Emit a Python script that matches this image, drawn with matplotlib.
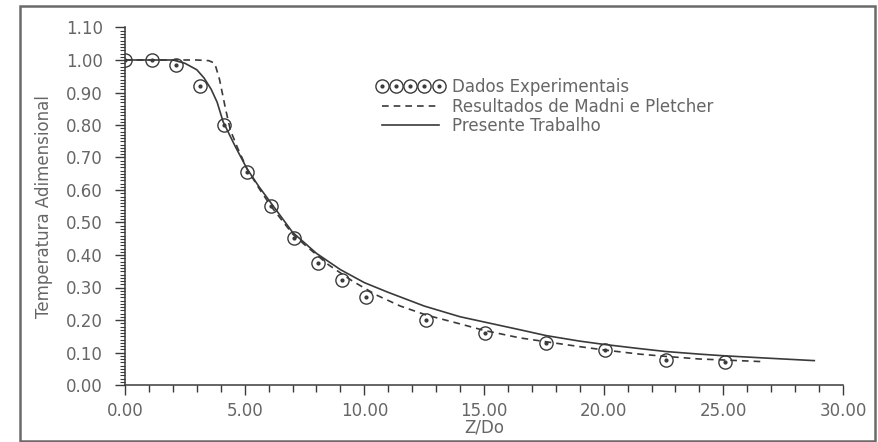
import matplotlib
matplotlib.use("Agg")
import matplotlib.pyplot as plt
from matplotlib.patches import Rectangle
from matplotlib.legend_handler import HandlerTuple
from matplotlib.ticker import MultipleLocator, FormatStrFormatter

# ---- data ----
exp_x = [0.0, 1.13, 2.13, 3.13, 4.14, 5.10, 6.10, 7.05, 8.06, 9.07, 10.07,
         12.58, 15.04, 17.6, 20.06, 22.6, 25.07]
exp_y = [1.00, 1.00, 0.985, 0.92, 0.80, 0.655, 0.55, 0.452, 0.375, 0.323, 0.271,
         0.200, 0.160, 0.129, 0.108, 0.077, 0.071]

madni_x = [0.0, 3.0, 3.5, 3.75, 3.95, 4.2, 4.4, 4.7, 5.1, 5.6, 6.1, 7.0, 7.5,
           8.5, 9.5, 10.5, 11.5, 12.6, 13.9, 15.0, 16.5, 17.6, 19.0, 20.0,
           21.5, 22.6, 24.0, 25.0, 26.6]
madni_y = [1.0, 1.0, 0.998, 0.99, 0.94, 0.85, 0.785, 0.73, 0.665, 0.605, 0.55,
           0.465, 0.432, 0.37, 0.32, 0.277, 0.243, 0.215, 0.19, 0.168, 0.145,
           0.133, 0.118, 0.108, 0.095, 0.088, 0.080, 0.077, 0.072]

pres_x = [0.0, 1.0, 2.0, 2.5, 3.0, 3.3, 3.6, 3.85, 4.1, 4.6, 5.1, 5.6, 6.1,
          6.6, 7.0, 8.0, 9.0, 10.0, 11.0, 12.5, 14.0, 15.0, 16.5, 17.6, 19.0,
          20.0, 21.5, 22.6, 24.0, 25.0, 27.0, 28.8]
pres_y = [1.0, 1.0, 1.0, 0.99, 0.97, 0.945, 0.91, 0.87, 0.81, 0.735, 0.665,
          0.61, 0.56, 0.51, 0.47, 0.405, 0.355, 0.315, 0.285, 0.243, 0.21,
          0.194, 0.17, 0.152, 0.135, 0.125, 0.112, 0.103, 0.095, 0.09, 0.082,
          0.075]

labels = ["Dados Experimentais", "Resultados de Madni e Pletcher", "Presente Trabalho"]
x_label = "Z/Do"
y_label = "Temperatura Adimensional"

# ---- style ----
txt_col = "#666666"
line_col = "#3a3a3a"
fs = 12
plt.rcParams["font.family"] = ["DejaVu Sans"]

fig = plt.figure(figsize=(8.79, 4.42), dpi=100)
W, H = 879, 442
ax = fig.add_axes([125 / W, 1 - 385 / H, (843 - 125) / W, (385 - 27.5) / H])

# outer frame
fig.patches.append(Rectangle((20 / W, 1 / H), (875 - 20) / W, (436 - 1) / H,
                             transform=fig.transFigure, fill=False,
                             edgecolor="#6a6a6a", linewidth=1.8))

l_pres, = ax.plot(pres_x, pres_y, color=line_col, lw=1.2, zorder=3)
l_madni, = ax.plot(madni_x, madni_y, color=line_col, lw=1.2,
                   linestyle=(0, (4, 3)), zorder=3)
l_circ, = ax.plot(exp_x, exp_y, linestyle="none", marker="o", ms=9.5,
                  mfc="none", mec=line_col, mew=1.0, zorder=4)
l_dot, = ax.plot(exp_x, exp_y, linestyle="none", marker="o", ms=2,
                 mfc=line_col, mec=line_col, zorder=4)

ax.set_xlim(0, 30)
ax.set_ylim(0, 1.10)
for s in ["top", "right"]:
    ax.spines[s].set_visible(False)
for s in ["left", "bottom"]:
    ax.spines[s].set_color(line_col)
    ax.spines[s].set_linewidth(1.1)

ax.xaxis.set_major_locator(MultipleLocator(5))
ax.xaxis.set_minor_locator(MultipleLocator(1))
ax.yaxis.set_major_locator(MultipleLocator(0.1))
ax.yaxis.set_minor_locator(MultipleLocator(0.01))
ax.xaxis.set_major_formatter(FormatStrFormatter("%.2f"))
ax.yaxis.set_major_formatter(FormatStrFormatter("%.2f"))

ax.tick_params(axis="x", which="major", length=7, width=1.0, color=line_col,
               labelsize=fs, labelcolor=txt_col, pad=5)
ax.tick_params(axis="x", which="minor", length=5, width=1.0, color=line_col)
ax.tick_params(axis="y", which="major", length=7, width=1.0, color=line_col,
               labelsize=fs, labelcolor=txt_col, pad=9)
ax.tick_params(axis="y", which="minor", length=3.5, width=0.8, color=line_col)

ax.set_xlabel(x_label, fontsize=fs, color=txt_col, labelpad=-1)
ax.set_ylabel(y_label, fontsize=fs, color=txt_col, labelpad=9)

leg = ax.legend([(l_circ, l_dot), l_madni, l_pres], labels,
                handler_map={tuple: HandlerTuple(ndivide=1, pad=0)},
                numpoints=5, loc="upper left",
                bbox_to_anchor=(377 / W, 1 - 78 / H),
                bbox_transform=fig.transFigure, frameon=False, fontsize=fs,
                handlelength=4.0, handletextpad=0.5, labelspacing=0.1,
                borderpad=0, borderaxespad=0)
for t in leg.get_texts():
    t.set_color(txt_col)

fig.savefig("out.png", dpi=100, facecolor="white")
